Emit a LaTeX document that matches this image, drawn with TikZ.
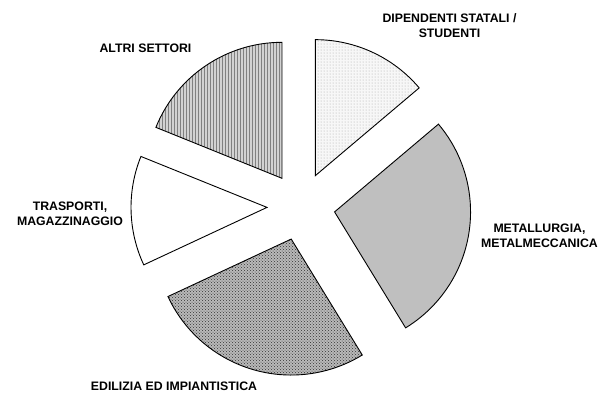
\documentclass[tikz,border=0pt]{standalone}
\usepackage{fontspec}
\setmainfont{Liberation Sans}
\usetikzlibrary{patterns,calc}
\newcommand\pieslice[4]{%
  \draw[slice,#4] ($(C)+(#3:34)$) -- ++(#1:136) arc[start angle=#1,end angle=#2,radius=136] -- cycle;}
\begin{document}
\begin{tikzpicture}[x=1pt,y=1pt,
  slice/.style={draw=black,line width=0.9pt,line join=miter},
  lab/.style={font=\fontsize{12.3}{15}\selectfont\bfseries,align=center,inner sep=0pt},
  dotsfill/.style={preaction={fill=gray!6},pattern=dots,pattern color=gray!70},
  solidfill/.style={fill=gray!50},
  checkfill/.style={preaction={fill=gray!55},pattern=crosshatch dots,pattern color=black!80},
  whitefill/.style={fill=white},
  stripefill/.style={preaction={fill=gray!35},pattern=vertical lines,pattern color=gray!100}]
\useasboundingbox (0,0) rectangle (602,392);
\coordinate (C) at (301,185.5);
\pieslice{40.2}{90}{65.1}{dotsfill}
\pieslice{-58.5}{40.2}{-9.15}{solidfill}
\pieslice{205}{301.5}{253.25}{checkfill}
\pieslice{158}{205}{181.5}{whitefill}
\pieslice{90}{158}{124}{stripefill}
\node[lab] (l1) at (449.5,366) {DIPENDENTI STATALI /\\STUDENTI};
\node[lab] (l2) at (539.5,156.5) {METALLURGIA,\\METALMECCANICA};
\node[lab] (l3) at (174,6) {EDILIZIA ED IMPIANTISTICA};
\node[lab] (l4) at (70,178.5) {TRASPORTI,\\MAGAZZINAGGIO};
\node[lab] (l5) at (145.5,344) {ALTRI SETTORI};
\end{tikzpicture}
\end{document}
